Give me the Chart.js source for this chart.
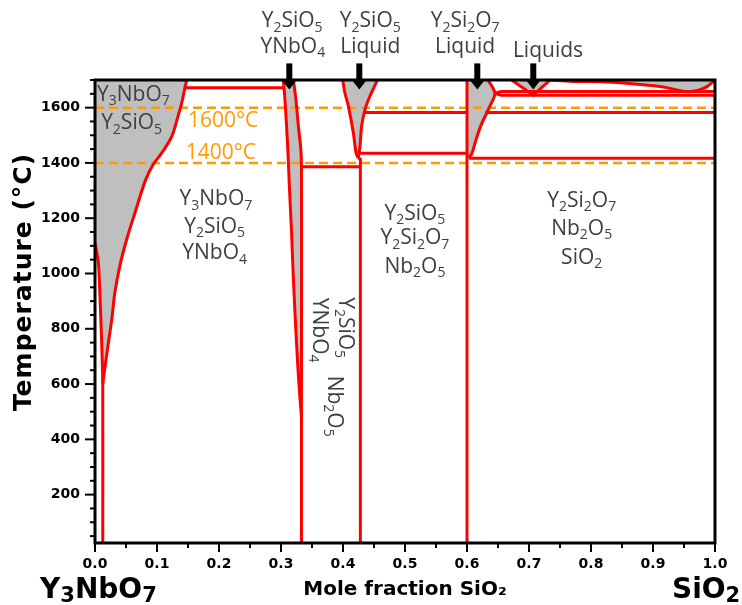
<!DOCTYPE html>
<html>
<head>
<meta charset="utf-8">
<title>Y3NbO7 - SiO2 phase diagram</title>
<style>
  html, body { margin: 0; padding: 0; background: #fff; }
  #wrap { width: 742px; height: 605px; }
</style>
<script src="https://cdn.jsdelivr.net/npm/chart.js@4.4.0/dist/chart.umd.min.js"></script>
</head>
<body>
<div id="wrap"><canvas id="phase" width="742" height="605"></canvas></div>
<script>
// ---- phase boundaries, [mole fraction SiO2, temperature in °C] ----
const y3nbo7Solvus = [[0, 1112], [0.0054, 1039], [0.008, 918], [0.010, 800], [0.0115, 700], [0.0125, 600], [0.0125, 25]];
const y3nbo7Liquidus = [[0.0125, 600], [0.016, 660], [0.021, 740], [0.027, 834], [0.032, 930], [0.040, 1027], [0.051, 1123],
  [0.0645, 1220], [0.081, 1335], [0.094, 1395], [0.108, 1437], [0.124, 1497], [0.134, 1570], [0.140, 1618], [0.145, 1672], [0.148, 1700]];
const ynbo4Left = [[0.3035, 1700], [0.305, 1672], [0.309, 1533], [0.312, 1400], [0.3134, 1320], [0.317, 1150], [0.320, 979],
  [0.3253, 737], [0.329, 600], [0.333, 480]];
const ynbo4Right = [[0.320, 1700], [0.324, 1630], [0.328, 1533], [0.332, 1449], [0.333, 1386], [0.333, 480], [0.333, 25]];
const y2sio5LiqLeft = [[0.3995, 1700], [0.403, 1654], [0.4086, 1606], [0.4167, 1509], [0.421, 1437], [0.4245, 1418]];
const y2sio5LiqRight = [[0.4245, 1418], [0.4274, 1461], [0.430, 1533], [0.4355, 1594], [0.4435, 1642], [0.4555, 1700]];
const y2sio5Line = [[0.428, 25], [0.428, 1414], [0.4245, 1418]];
const y2si2o7Line = [[0.6, 25], [0.6, 1700]];
const y2si2o7Liq = [[0.634, 1700], [0.645, 1652], [0.637, 1606], [0.6295, 1570], [0.622, 1533], [0.614, 1480], [0.608, 1435], [0.603, 1419]];
const liquidsV = [[0.672, 1700], [0.707, 1645], [0.734, 1700]];
const sio2Liquidus = [[0.734, 1700], [0.771, 1695], [0.825, 1693], [0.879, 1684], [0.917, 1675], [0.938, 1664], [0.954, 1658],
  [0.970, 1661], [0.987, 1676], [1, 1700]];
const isotherms = [
  [[0.145, 1672], [0.305, 1672]],
  [[0.333, 1386], [0.428, 1386]],
  [[0.427, 1435], [0.6, 1435]],
  [[0.4345, 1582], [0.6, 1582]],
  [[0.6295, 1582], [1, 1582]],
  [[0.603, 1417], [1, 1417]],
  [[0.645, 1652], [0.655, 1658], [1, 1658]],
  [[0.645, 1652], [0.655, 1645], [1, 1645]]
];
const referenceTemps = [1600, 1400];

// ---- axes ----
const tMin = 25;
const tMax = 1700;
const xTickLabels = ['0.0', '0.1', '0.2', '0.3', '0.4', '0.5', '0.6', '0.7', '0.8', '0.9', '1.0'];
const yTickLabels = [200, 400, 600, 800, 1000, 1200, 1400, 1600];
const xMinorStep = 0.05;
const yMinorStep = 50;

// ---- text placed in data units ----
const fieldLabels = [
  { text: 'Y_3NbO_7', x: 0.062, y: 1624 },
  { text: 'Y_2SiO_5', x: 0.059, y: 1521 },
  { text: 'Y_3NbO_7', x: 0.195, y: 1246 },
  { text: 'Y_2SiO_5', x: 0.193, y: 1148 },
  { text: 'YNbO_4', x: 0.193, y: 1051 },
  { text: 'Y_2SiO_5', x: 0.516, y: 1195 },
  { text: 'Y_2Si_2O_7', x: 0.516, y: 1105 },
  { text: 'Nb_2O_5', x: 0.516, y: 1003 },
  { text: 'Y_2Si_2O_7', x: 0.785, y: 1241 },
  { text: 'Nb_2O_5', x: 0.785, y: 1140 },
  { text: 'SiO_2', x: 0.785, y: 1036 },
  { text: 'Y_2SiO_5', x: 0.318, y: 1890 },
  { text: 'YNbO_4', x: 0.319, y: 1799 },
  { text: 'Y_2SiO_5', x: 0.444, y: 1890 },
  { text: 'Liquid', x: 0.444, y: 1799 },
  { text: 'Y_2Si_2O_7', x: 0.597, y: 1890 },
  { text: 'Liquid', x: 0.597, y: 1799 },
  { text: 'Liquids', x: 0.7306, y: 1782 }
];
const verticalLabels = [
  { text: 'Y_2SiO_5', x: 0.394, y: 804 },
  { text: 'YNbO_4', x: 0.3515, y: 795 },
  { text: 'Nb_2O_5', x: 0.3757, y: 520 }
];
const tempLabels = [
  { text: '1600°C', x: 0.2065, y: 1531 },
  { text: '1400°C', x: 0.203, y: 1413 }
];
const endMembers = [
  { text: 'Y_3NbO_7', x: -0.0887, y: -174 },
  { text: 'SiO_2', x: 0.9306, y: -174 }
];
const arrowXs = [0.3134, 0.4263, 0.6166, 0.7069];
const arrowTop = 1760;
const arrowTip = 1666;

const RED = '#ff0000';
const GREY = '#bfbfbf';
const ORANGE = '#ff9a00';
const INK = '#404040';
const LABEL_FONT = '"Open Sans", "Noto Sans", sans-serif';
const AXIS_FONT = '"DejaVu Sans", sans-serif';

const pts = arr => arr.map(([x, y]) => ({ x, y }));

function redLine(arr, tension = 0) {
  return { data: pts(arr), borderColor: RED, borderWidth: 3, pointRadius: 0, fill: false, tension, order: 1 };
}
function greyField(arr) {
  return { data: pts(arr), borderWidth: 0, borderColor: 'rgba(0,0,0,0)', backgroundColor: GREY, pointRadius: 0, fill: 'shape', order: 3 };
}

const datasets = [
  greyField([[0, 1700], ...y3nbo7Solvus.slice(0, 6), ...y3nbo7Liquidus]),
  greyField([...ynbo4Left, ...ynbo4Right.slice(0, 5).reverse()]),
  greyField([...y2sio5LiqLeft, ...y2sio5LiqRight.slice(1)]),
  greyField([[0.6, 1700], ...y2si2o7Liq, [0.6, 1425]]),
  greyField(liquidsV),
  greyField(sio2Liquidus),
  ...referenceTemps.map(t => ({
    data: pts([[0, t], [1, t]]), borderColor: ORANGE, borderWidth: 2.5, borderDash: [9, 5],
    pointRadius: 0, fill: false, order: 2
  })),
  redLine(y3nbo7Solvus, 0.3),
  redLine(y3nbo7Liquidus, 0.3),
  redLine(ynbo4Left, 0.3),
  redLine(ynbo4Right, 0.3),
  redLine(y2sio5LiqLeft, 0.3),
  redLine(y2sio5LiqRight, 0.3),
  redLine(y2sio5Line),
  redLine(y2si2o7Line),
  redLine(y2si2o7Liq, 0.3),
  redLine(liquidsV),
  redLine(sio2Liquidus, 0.3),
  ...isotherms.map(l => redLine(l))
];

// split "Y_2SiO_5" into normal runs and subscript runs
function chemParts(str) {
  const out = [];
  for (let i = 0; i < str.length; i++) {
    const sub = str[i] === '_';
    const ch = sub ? str[++i] : str[i];
    const last = out[out.length - 1];
    if (last && last.sub === sub) last.t += ch;
    else out.push({ t: ch, sub });
  }
  return out;
}

function drawChem(ctx, str, x, y, o) {
  const parts = chemParts(str);
  const weight = o.weight || 'normal';
  const big = `${weight} ${o.size}px ${o.family}`;
  const small = `${weight} ${Math.round(o.size * o.subScale)}px ${o.family}`;
  let w = 0;
  parts.forEach(p => { ctx.font = p.sub ? small : big; p.w = ctx.measureText(p.t).width; w += p.w; });
  let cx = o.align === 'left' ? x : x - w / 2;
  ctx.fillStyle = o.color;
  ctx.textAlign = 'left';
  ctx.textBaseline = 'alphabetic';
  parts.forEach(p => {
    ctx.font = p.sub ? small : big;
    ctx.fillText(p.t, cx, y + (p.sub ? o.size * o.subDrop : 0));
    cx += p.w;
  });
}

const isTenth = v => Math.abs(v * 10 - Math.round(v * 10)) < 1e-6;

const decor = {
  id: 'decor',
  afterDraw(chart) {
    const { ctx, chartArea: a, scales: { x, y } } = chart;
    ctx.save();

    // frame
    ctx.strokeStyle = '#000';
    ctx.lineWidth = 3;
    ctx.strokeRect(a.left, a.top, a.right - a.left, a.bottom - a.top);

    // outward tick marks, long on labelled values
    ctx.lineWidth = 2;
    y.ticks.forEach(t => {
      const py = y.getPixelForValue(t.value);
      const len = t.value % 200 === 0 ? 10 : 5;
      ctx.beginPath(); ctx.moveTo(a.left, py); ctx.lineTo(a.left - len, py); ctx.stroke();
    });
    x.ticks.forEach(t => {
      const px = x.getPixelForValue(t.value);
      const len = isTenth(t.value) ? 9 : 5;
      ctx.beginPath(); ctx.moveTo(px, a.bottom); ctx.lineTo(px, a.bottom + len); ctx.stroke();
    });

    // arrows pointing at the liquid fields
    ctx.fillStyle = '#000';
    arrowXs.forEach(v => {
      const px = x.getPixelForValue(v);
      const top = y.getPixelForValue(arrowTop);
      const tip = y.getPixelForValue(arrowTip);
      ctx.fillRect(px - 3, top, 6, tip - top - 8);
      ctx.beginPath();
      ctx.moveTo(px - 7, tip - 9);
      ctx.lineTo(px + 7, tip - 9);
      ctx.lineTo(px, tip);
      ctx.closePath();
      ctx.fill();
    });

    const labelOpts = { size: 21, family: LABEL_FONT, subScale: 0.65, subDrop: 0.2, color: INK };
    fieldLabels.forEach(l => drawChem(ctx, l.text, x.getPixelForValue(l.x), y.getPixelForValue(l.y), labelOpts));
    tempLabels.forEach(l => drawChem(ctx, l.text, x.getPixelForValue(l.x), y.getPixelForValue(l.y), { ...labelOpts, color: ORANGE }));
    verticalLabels.forEach(l => {
      ctx.save();
      ctx.translate(x.getPixelForValue(l.x), y.getPixelForValue(l.y));
      ctx.rotate(Math.PI / 2);
      drawChem(ctx, l.text, 0, 0, labelOpts);
      ctx.restore();
    });

    // axis titles and end members
    ctx.fillStyle = '#000';
    ctx.font = `bold 25px ${AXIS_FONT}`;
    ctx.letterSpacing = '1px';
    ctx.textAlign = 'center';
    ctx.textBaseline = 'middle';
    ctx.save();
    ctx.translate(24, 282);
    ctx.rotate(-Math.PI / 2);
    ctx.fillText('Temperature (°C)', 0, 0);
    ctx.restore();
    ctx.letterSpacing = '0px';
    ctx.font = `bold 20px ${AXIS_FONT}`;
    ctx.fillText('Mole fraction SiO₂', (a.left + a.right) / 2, 590);
    endMembers.forEach(l => drawChem(ctx, l.text, x.getPixelForValue(l.x), y.getPixelForValue(l.y),
      { size: 28, family: AXIS_FONT, weight: 'bold', subScale: 0.75, subDrop: 0.15, color: '#000', align: 'left' }));

    ctx.restore();
  }
};

const tickFont = { family: AXIS_FONT, weight: 'bold', size: 14 };

new Chart(document.getElementById('phase'), {
  type: 'line',
  data: { datasets },
  options: {
    responsive: false,
    animation: false,
    events: [],
    layout: { padding: { top: 80, right: 27, left: 0, bottom: 0 } },
    plugins: { legend: { display: false }, tooltip: { enabled: false } },
    scales: {
      x: {
        type: 'linear', min: 0, max: 1,
        grid: { display: false, drawTicks: false },
        border: { display: false },
        afterBuildTicks: s => {
          s.ticks = [];
          for (let i = 0; i <= Math.round(1 / xMinorStep); i++) s.ticks.push({ value: i * xMinorStep });
        },
        afterFit: s => { s.height = 62; },
        ticks: {
          autoSkip: false, maxRotation: 0, minRotation: 0, padding: 13, color: '#000', font: tickFont,
          callback: v => isTenth(v) ? xTickLabels[Math.round(v * 10)] : ''
        }
      },
      y: {
        type: 'linear', min: tMin, max: tMax,
        grid: { display: false, drawTicks: false },
        border: { display: false },
        afterBuildTicks: s => {
          s.ticks = [];
          for (let v = yMinorStep; v <= tMax; v += yMinorStep) s.ticks.push({ value: v });
        },
        afterFit: s => { s.width = 95; },
        ticks: {
          autoSkip: false, padding: 15, color: '#000', font: tickFont,
          callback: v => yTickLabels.includes(v) ? String(v) : ''
        }
      }
    }
  },
  plugins: [decor]
});
</script>
</body>
</html>
